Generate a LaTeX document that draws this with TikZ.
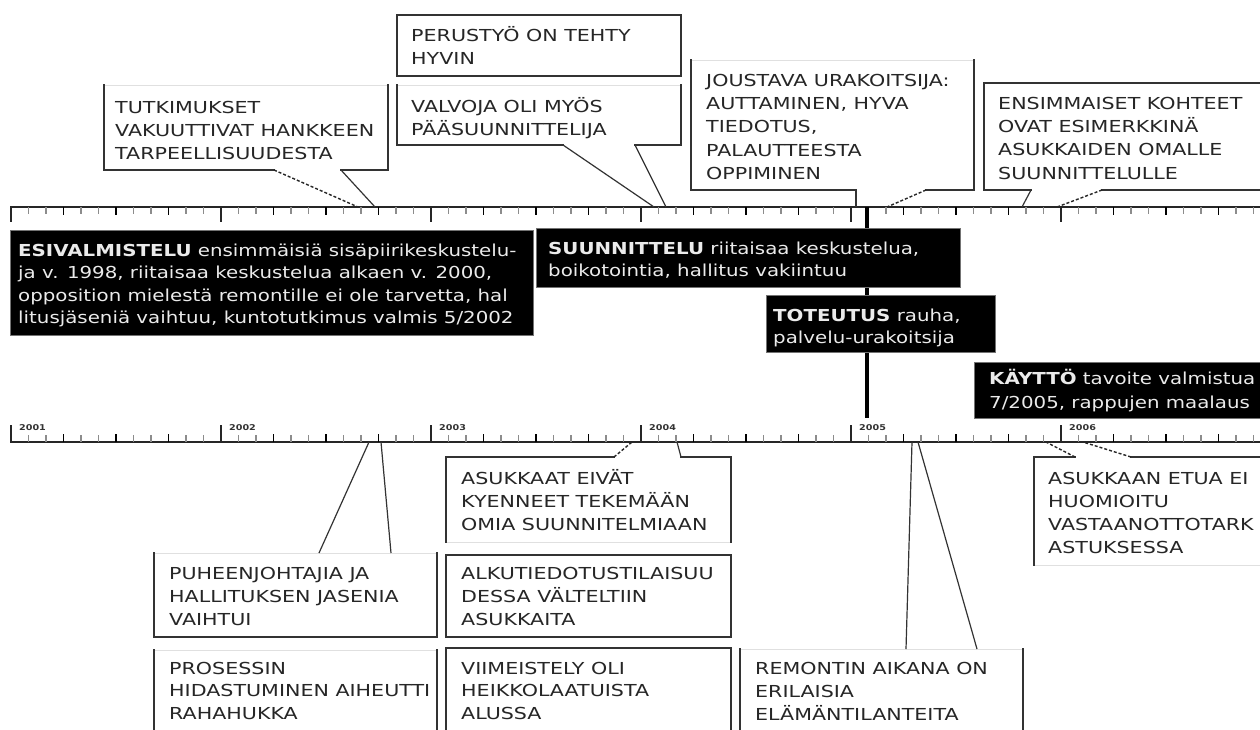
\documentclass[tikz,border=0pt]{standalone}
\usepackage{fontspec}
\setmainfont{DejaVu Sans}
\newfontfamily\cf[FakeStretch=1.2]{DejaVu Sans}
\newfontfamily\cfw[FakeStretch=1.25]{DejaVu Sans}
\newcommand\tp{\rule{0pt}{17pt}}
\tikzset{
  edge/.style={draw=black!80, line width=1.3pt, line cap=rect},
  faint/.style={draw=black!12, line width=1pt},
  tail/.style={draw=black!80, line width=1.2pt},
  dtail/.style={draw=black!85, line width=1.4pt, dash pattern=on 3pt off 2pt},
  ctext/.style={anchor=north west, inner sep=0pt, align=left, text=black!85, font=\cfw\fontsize{16.5}{23}\selectfont},
  btext/.style={anchor=north west, inner sep=0pt, align=left, text=white!92!black, font=\cf\fontsize{16.5}{22.5}\selectfont},
  blackbox/.style={fill=black, draw=black!55, line width=0.8pt},
  axisline/.style={draw=black!85, line width=1.8pt},
  majtick/.style={draw=black!85, line width=1.8pt},
  qtick/.style={draw=black, line width=1.5pt},
  mintick/.style={draw=black!45, line width=1.1pt},
  yearlab/.style={anchor=west, inner sep=0pt, font=\cf\bfseries\fontsize{8}{9}\selectfont, text=black!80},
}
\begin{document}
\begin{tikzpicture}[x=1pt,y=-1pt]
\useasboundingbox[fill=white] (0,0) rectangle (1260,729);

% ---------- axes ----------
\draw[axisline] (10,207) -- (1260,207);
\draw[axisline] (10,442) -- (1260,442);
\foreach \k in {0,...,5}{
  \pgfmathsetmacro\xm{11+210*\k}
  \draw[majtick] (\xm,207) -- (\xm,222);
  \draw[majtick] (\xm,442) -- (\xm,425);
  \foreach \m in {1,...,11}{
    \pgfmathsetmacro\xt{\xm+17.5*\m}
    \pgfmathparse{mod(\m,3)==0 ? 1 : 0}
    \ifnum\pgfmathresult=1
      \draw[qtick] (\xt,207) -- (\xt,215);
      \draw[qtick] (\xt,442) -- (\xt,434);
    \else
      \draw[mintick] (\xt,207) -- (\xt,214);
      \draw[mintick] (\xt,442) -- (\xt,435);
    \fi
  }
}
\node[yearlab] (y1) at (19,428) {2001};
\node[yearlab] (y2) at (229,428) {2002};
\node[yearlab] (y3) at (439,428) {2003};
\node[yearlab] (y4) at (649,428) {2004};
\node[yearlab] (y5) at (859,428) {2005};
\node[yearlab] (y6) at (1069,428) {2006};

% ---------- thick line ----------
\coordinate (ttop) at (867,207);
\coordinate (tbot) at (867,418);
\draw[line width=4pt] (ttop) -- (tbot);

% ---------- black phase boxes ----------
\draw[blackbox] (10,230) rectangle (533,335);
\draw[blackbox] (536,228) rectangle (960,287);
\draw[blackbox] (766,295) rectangle (995,352);
\draw[blackbox] (974,362) rectangle (1262,418);
\node[btext] (esi) at (18,239) {\tp\textbf{ESIVALMISTELU} ensimmäisiä sisäpiirikeskustelu-\\ja v. 1998, riitaisaa keskustelua alkaen v. 2000,\\opposition mielestä remontille ei ole tarvetta, hal\\litusjäseniä vaihtuu, kuntotutkimus valmis 5/2002};
\node[btext, font=\cf\fontsize{16.5}{22}\selectfont] (suu) at (548,237) {\tp\textbf{SUUNNITTELU} riitaisaa keskustelua,\\boikotointia, hallitus vakiintuu};
\node[btext, font=\cf\fontsize{16.5}{22}\selectfont] (tot) at (773,304) {\tp\textbf{TOTEUTUS} rauha,\\palvelu-urakoitsija};
\node[btext, font=\cf\fontsize{16.5}{24}\selectfont] (kay) at (989,367) {\tp\textbf{KÄYTTÖ} tavoite valmistua\\7/2005, rappujen maalaus};

% ---------- top callouts ----------
% TUTKIMUKSET
\draw[faint] (104,85) -- (388,85);
\draw[edge] (274,170) -- (104,170) -- (104,85);
\draw[edge] (388,85) -- (388,170) -- (341,170);
\coordinate (t1a) at (358,207); \coordinate (t1b) at (375,207);
\draw[dtail] (274,170) -- (t1a);
\draw[tail] (341,170) -- (t1b);
\node[ctext] (c1) at (115,96) {\tp TUTKIMUKSET\\VAKUUTTIVAT HANKKEEN\\TARPEELLISUUDESTA};

% PERUSTYO
\draw[edge] (397,15) rectangle (681,76);
\node[ctext] (c2) at (411,24) {\tp PERUSTYÖ ON TEHTY\\HYVIN};

% VALVOJA
\draw[faint] (397,85) -- (681,85);
\draw[edge] (563,145) -- (397,145) -- (397,85);
\draw[edge] (681,85) -- (681,145) -- (635,145);
\coordinate (t3a) at (654,207); \coordinate (t3b) at (666,207);
\draw[tail] (563,145) -- (t3a);
\draw[tail] (635,145) -- (t3b);
\node[ctext] (c3) at (411,95) {\tp VALVOJA OLI MYÖS\\PÄÄSUUNNITTELIJA};

% JOUSTAVA
\draw[faint] (691,60) -- (974,60);
\draw[edge] (856,190) -- (691,190) -- (691,60);
\draw[edge] (974,60) -- (974,190) -- (926,190);
\coordinate (t4a) at (856,207); \coordinate (t4b) at (887,207);
\draw[tail] (856,190) -- (t4a);
\draw[dtail] (926,190) -- (t4b);
\node[ctext, font=\cfw\fontsize{16.5}{23.3}\selectfont] (c4) at (706,69) {\tp JOUSTAVA URAKOITSIJA:\\AUTTAMINEN, HYVA\\TIEDOTUS,\\PALAUTTEESTA\\OPPIMINEN};

% ENSIMMAISET
\draw[edge] (1031,190) -- (984,190) -- (984,83) -- (1270,83);
\draw[edge] (1102,190) -- (1270,190);
\coordinate (t5a) at (1022,207); \coordinate (t5b) at (1057,207);
\draw[tail] (1031,190) -- (t5a);
\draw[dtail] (1102,190) -- (t5b);
\node[ctext, font=\cfw\fontsize{16.5}{23.3}\selectfont] (c5) at (998,92) {\tp ENSIMMAISET KOHTEET\\OVAT ESIMERKKINÄ\\ASUKKAIDEN OMALLE\\SUUNNITTELULLE};

% ---------- bottom callouts ----------
% ASUKKAAT
\draw[faint] (446,542) -- (731,542);
\draw[edge] (614,457) -- (446,457) -- (446,542);
\draw[edge] (681,457) -- (731,457) -- (731,542);
\coordinate (b1a) at (632,442); \coordinate (b1b) at (677,442);
\draw[dtail] (614,457) -- (b1a);
\draw[tail] (681,457) -- (b1b);
\node[ctext] (d1) at (461,467) {\tp ASUKKAAT EIVÄT\\KYENNEET TEKEMÄÄN\\OMIA SUUNNITELMIAAN};

% ALKUTIEDOTUS
\draw[edge] (446,555) rectangle (731,637);
\node[ctext] (d2) at (461,562) {\tp ALKUTIEDOTUSTILAISUU\\DESSA VÄLTELTIIN\\ASUKKAITA};

% VIIMEISTELY
\draw[edge] (446,740) -- (446,648) -- (731,648) -- (731,740);
\node[ctext, font=\cfw\fontsize{16.5}{22.5}\selectfont] (d3) at (461,657) {\tp VIIMEISTELY OLI\\HEIKKOLAATUISTA\\ALUSSA};

% PUHEENJOHTAJIA
\draw[faint] (154,553) -- (437,553);
\draw[edge] (154,553) -- (154,637) -- (437,637) -- (437,553);
\coordinate (b4a) at (369,442); \coordinate (b4b) at (381,442);
\draw[tail] (319,553) -- (b4a);
\draw[tail] (391,553) -- (b4b);
\node[ctext] (d4) at (169,562) {\tp PUHEENJOHTAJIA JA\\HALLITUKSEN JASENIA\\VAIHTUI};

% PROSESSIN
\draw[faint] (154,650) -- (437,650);
\draw[edge] (154,740) -- (154,650);
\draw[edge] (437,650) -- (437,740);
\node[ctext, font=\cfw\fontsize{16.5}{22.5}\selectfont] (d5) at (169,657) {\tp PROSESSIN\\HIDASTUMINEN AIHEUTTI\\RAHAHUKKA};

% REMONTIN
\draw[faint] (740,649) -- (1023,649);
\draw[edge] (740,740) -- (740,649);
\draw[edge] (1023,649) -- (1023,740);
\coordinate (b6a) at (912,442); \coordinate (b6b) at (918,442);
\draw[tail] (906,649) -- (b6a);
\draw[tail] (977,649) -- (b6b);
\node[ctext] (d6) at (755,657) {\tp REMONTIN AIKANA ON\\ERILAISIA\\ELÄMÄNTILANTEITA};

% ASUKKAAN
\draw[faint] (1034,565) -- (1270,565);
\draw[edge] (1075,457) -- (1034,457) -- (1034,565);
\draw[edge] (1131,457) -- (1270,457);
\coordinate (b7a) at (1046,442); \coordinate (b7b) at (1083,442);
\draw[dtail] (1075,457) -- (b7a);
\draw[dtail] (1131,457) -- (b7b);
\node[ctext] (d7) at (1048,467) {\tp ASUKKAAN ETUA EI\\HUOMIOITU\\VASTAANOTTOTARK\\ASTUKSESSA};
\end{tikzpicture}
\end{document}
